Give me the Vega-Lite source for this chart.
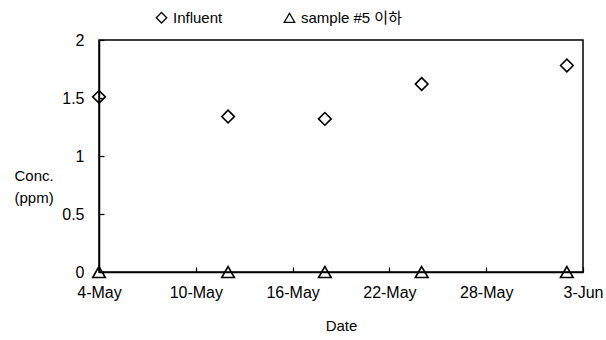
{
  "$schema": "https://vega.github.io/schema/vega-lite/v6.json",
  "width": 484,
  "height": 232,
  "autosize": {"type": "none"},
  "padding": {"left": 99, "top": 40, "right": 23, "bottom": 68},
  "background": "white",
  "config": {
    "font": "Liberation Sans, Noto Sans CJK KR",
    "view": {"stroke": "black", "strokeWidth": 1.5},
    "axis": {"grid": false, "domainColor": "black", "domainWidth": 1.5, "tickColor": "black", "tickWidth": 1.2, "labelColor": "black", "titleColor": "black", "labelFont": "Liberation Sans", "titleFont": "Liberation Sans", "titleFontWeight": "normal"}
  },
  "data": {
    "values": [
      {"date": "2005-05-04", "series": "Influent", "conc": 1.51},
      {"date": "2005-05-12", "series": "Influent", "conc": 1.34},
      {"date": "2005-05-18", "series": "Influent", "conc": 1.32},
      {"date": "2005-05-24", "series": "Influent", "conc": 1.62},
      {"date": "2005-06-02", "series": "Influent", "conc": 1.78},
      {"date": "2005-05-04", "series": "sample #5 이하", "conc": 0},
      {"date": "2005-05-12", "series": "sample #5 이하", "conc": 0},
      {"date": "2005-05-18", "series": "sample #5 이하", "conc": 0},
      {"date": "2005-05-24", "series": "sample #5 이하", "conc": 0},
      {"date": "2005-06-02", "series": "sample #5 이하", "conc": 0}
    ]
  },
  "mark": {"type": "point", "filled": false, "color": "black", "strokeWidth": 1.6, "size": 160, "opacity": 1},
  "encoding": {
    "x": {
      "field": "date",
      "type": "temporal",
      "scale": {"type": "utc", "domain": [{"year": 2005, "month": 5, "date": 4, "utc": true}, {"year": 2005, "month": 6, "date": 3, "utc": true}]},
      "axis": {
        "title": "Date",
        "titleFontSize": 15,
        "titlePadding": 18,
        "labelFontSize": 16,
        "labelExpr": "utcFormat(datum.value, '%-d-%b')",
        "values": [
          {"year": 2005, "month": 5, "date": 4, "utc": true},
          {"year": 2005, "month": 5, "date": 10, "utc": true},
          {"year": 2005, "month": 5, "date": 16, "utc": true},
          {"year": 2005, "month": 5, "date": 22, "utc": true},
          {"year": 2005, "month": 5, "date": 28, "utc": true},
          {"year": 2005, "month": 6, "date": 3, "utc": true}
        ],
        "tickSize": -5,
        "labelPadding": 17,
        "labelFlush": false,
        "labelOverlap": false
      }
    },
    "y": {
      "field": "conc",
      "type": "quantitative",
      "scale": {"domain": [0, 2]},
      "axis": {
        "title": ["Conc.", "(ppm)"],
        "titleAngle": 0,
        "titleAlign": "left",
        "titleBaseline": "top",
        "titleX": -85,
        "titleY": 128,
        "titleFontSize": 15,
        "titleLineHeight": 22,
        "labelFontSize": 16,
        "values": [0, 0.5, 1, 1.5, 2],
        "tickSize": -5,
        "labelPadding": 20,
        "format": "~g"
      }
    },
    "shape": {
      "field": "series",
      "type": "nominal",
      "scale": {"domain": ["Influent", "sample #5 이하"], "range": ["diamond", "triangle-up"]},
      "legend": {
        "title": null,
        "orient": "none",
        "legendX": 55,
        "legendY": -30,
        "direction": "horizontal",
        "columnPadding": 58,
        "labelFontSize": 15,
        "labelColor": "black",
        "labelFont": "Liberation Sans, Noto Sans CJK KR",
        "symbolSize": 110,
        "symbolStrokeColor": "black",
        "symbolStrokeWidth": 1.3,
        "symbolFillColor": "transparent",
        "labelOffset": 4
      }
    }
  }
}
